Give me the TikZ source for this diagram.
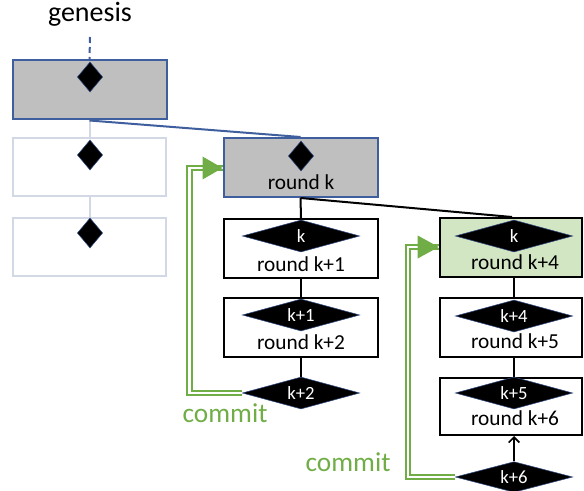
\documentclass[tikz,border=0pt]{standalone}
\usepackage{fontspec}
\setmainfont{Carlito}
\usetikzlibrary{shapes.geometric,arrows.meta}
\definecolor{bblue}{HTML}{3F5E9E}
\definecolor{fade}{HTML}{D2D8E6}
\definecolor{gfill}{HTML}{BFBFBF}
\definecolor{grfill}{HTML}{D3E6C3}
\definecolor{cgreen}{HTML}{70AD47}
\definecolor{dedge}{HTML}{2F4A80}
\tikzset{
  blk/.style={rectangle, draw=black, line width=1.5pt, minimum width=115.5pt, minimum height=44.25pt, inner sep=0pt},
  fadebox/.style={rectangle, draw=fade, line width=1.5pt, minimum width=114.75pt, minimum height=43.5pt, inner sep=0pt},
  gbox/.style={rectangle, draw=bblue, fill=gfill, line width=1.5pt, minimum width=115.5pt, minimum height=44.25pt, inner sep=0pt},
  smalld/.style={diamond, fill=black, draw=dedge, line width=0.4pt, minimum width=19pt, minimum height=22.5pt, inner sep=0pt},
  bigd/.style={diamond, fill=black, draw=dedge, line width=0.4pt, minimum width=88pt, minimum height=24pt, inner sep=0pt},
  dlab/.style={text=white, font=\fontsize{14}{16}\selectfont, inner sep=0pt},
  rlab/.style={font=\fontsize{16}{18}\selectfont, inner sep=0pt},
  commitline/.style={draw=cgreen, double=white, line width=1.35pt, double distance=2.2pt},
  committxt/.style={text=cgreen, font=\fontsize{20.5}{22}\selectfont, inner sep=0pt},
  link/.style={line width=1.5pt},
}
\begin{document}
\begin{tikzpicture}[x=0.75pt,y=-0.75pt]
\useasboundingbox (0,0) rectangle (584,491);
% left column
\node[font=\fontsize{21}{24}\selectfont, inner sep=0pt] (gen) at (90,14) {genesis};
\node[gbox] (g0) at (89.5,90) {};
\node[fadebox] (g1) at (89.5,167.5) {};
\node[fadebox] (g2) at (89.5,247) {};
\coordinate (gtop) at (90,37);
\draw[bblue, line width=1.5pt, dash pattern=on 4.5pt off 3pt] (gtop) -- (g0.north);
\draw[fade, line width=1.5pt] (g0.south) -- (g1.north);
\draw[fade, line width=1.5pt] (g1.south) -- (g2.north);
\node[smalld] (gd0) at (90,77) {};
\node[smalld] (gd1) at (90,155) {};
\node[smalld] (gd2) at (90,233) {};
% middle column
\node[gbox] (rk) at (300.5,167.5) {};
\node[smalld] (rkd) at (301,156) {};
\node[rlab] (rkt) at (301,182) {round k};
\draw[bblue, line width=1.5pt] (g0.south) -- (rk.north);
\node[blk] (rk1) at (301,248.5) {};
\node[blk] (rk2) at (301,327.5) {};
\draw[link] (rk.south) -- (rk1.north);
\draw[link] (rk1.south) -- (rk2.north);
\node[bigd] (d1) at (301,236) {};
\node[dlab] (d1t) at (d1) {k};
\node[rlab] (rk1t) at (301,264) {round k+1};
\node[bigd] (d2) at (301,315) {};
\node[dlab] (d2t) at (d2) {k+1};
\node[rlab] (rk2t) at (301,342) {round k+2};
\node[bigd] (d3) at (301,393) {};
\draw[link] (rk2.south) -- (d3.north);
\node[dlab] (d3t) at (d3) {k+2};
% right column
\node[blk, fill=grfill, minimum width=107pt] (rk4) at (511,247.5) {};
\node[blk, minimum width=107pt] (rk5) at (511,327.5) {};
\node[blk, minimum width=107pt, minimum height=42.75pt] (rk6) at (511,406.5) {};
\draw[link] (rk.south) -- (rk4.north -| 512,0);
\draw[link] (rk4.south -| 514,0) -- (rk5.north -| 514,0);
\draw[link] (rk5.south -| 514,0) -- (rk6.north -| 514,0);
\node[bigd] (d4) at (514,236) {};
\node[dlab] (d4t) at (d4) {k};
\node[rlab] (rk4t) at (515,262) {round k+4};
\node[bigd] (d5) at (514,316) {};
\node[dlab] (d5t) at (d5) {k+4};
\node[rlab] (rk5t) at (515,341) {round k+5};
\node[bigd] (d6) at (514,393) {};
\node[dlab] (d6t) at (d6) {k+5};
\node[rlab] (rk6t) at (515,418) {round k+6};
\node[bigd, minimum height=23pt] (d7) at (514,477) {};
\node[dlab] (d7t) at (d7) {k+6};
\draw[link, -{Straight Barb[length=4pt,width=8pt,line width=1.3pt]}] (d7.north) -- (rk6.south -| d7.north);
% commit arrows
\coordinate (c1) at (189.5,168);
\coordinate (c2) at (408,247);
\draw[commitline] (d3.west) -| (c1) -- (rk.west |- c1);
\fill[cgreen] (rk.west |- c1) -- ++(-20,-11.5) -- ++(0,23) -- cycle;
\node[committxt] (ct1) at (225,413) {commit};
\draw[commitline] (d7.west) -| (c2) -- (rk4.west |- c2);
\fill[cgreen] (rk4.west |- c2) -- ++(-21,-11.5) -- ++(0,23) -- cycle;
\node[committxt] (ct2) at (348,462) {commit};
\end{tikzpicture}
\end{document}
